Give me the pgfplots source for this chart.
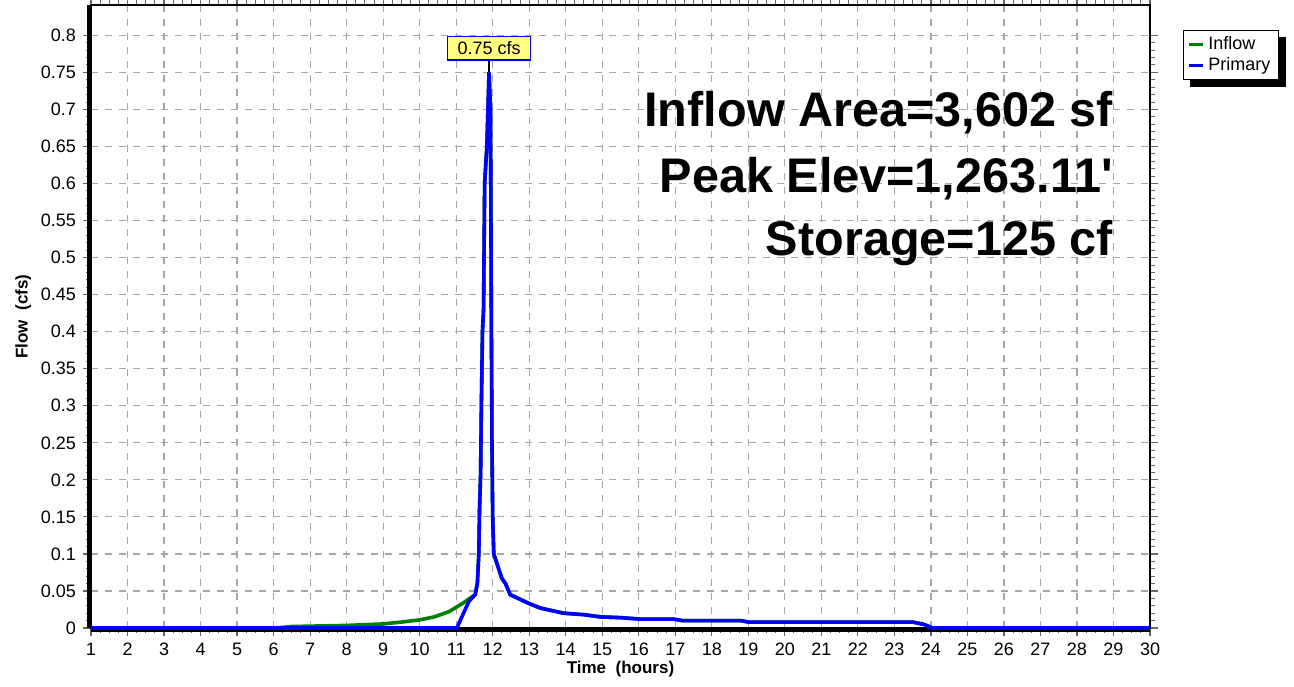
\documentclass[border=0pt]{standalone}
\usepackage{fontspec}
\setmainfont{Liberation Sans}[Ligatures=TeXOff]
\setsansfont{Liberation Sans}[Ligatures=TeXOff]
\usepackage{pgfplots}
\pgfplotsset{compat=1.18}
\pgfdeclarelayer{background}
\pgfsetlayers{background,main}
\definecolor{inflowgreen}{RGB}{0,128,0}
\definecolor{primblue}{RGB}{0,0,255}
\definecolor{labelyellow}{RGB}{255,255,128}
\begin{document}
\begin{tikzpicture}
\path[use as bounding box] (0,0) rectangle (647pt,343pt);
\begin{axis}[
  at={(45.5pt,29pt)}, anchor=south west,
  scale only axis, width=529.5pt, height=311.5pt,
  xmin=1, xmax=30, ymin=0, ymax=0.841,
  xtick={1,2,...,30},
  ytick={0,0.05,...,0.8},
  minor x tick num=3, minor y tick num=4,
  tick align=outside,
  major tick length=4pt, minor tick length=2.5pt,
  tick style={black!60, line width=0.6pt},
  minor tick style={black!60, line width=0.5pt},
  grid=major,
  major grid style={gray!70, line width=0.6pt, dash pattern=on 3.5pt off 3.5pt},
  axis line style={black, line width=0.8pt},
  ticklabel style={font=\fontsize{9}{10}\selectfont},
  /pgf/number format/assume math mode=true,
  yticklabel style={/pgf/number format/fixed, /pgf/number format/precision=2},
  xlabel={\bfseries Time\ \ (hours)},
  ylabel={\bfseries Flow\ \ (cfs)},
  label style={font=\fontsize{8.5}{10}\selectfont},
  xlabel style={yshift=4pt},
  ylabel style={yshift=-2pt},
  legend style={name=leg, at={(1.031,0.96)}, anchor=north west, draw=black, line width=0.6pt,
    fill=white, font=\fontsize{9}{10}\selectfont, inner xsep=2pt, inner ysep=1pt, row sep=-1.5pt},
  legend cell align=left,
  legend image code/.code={\draw[#1, line width=1.5pt] (0pt,0pt) -- (7pt,0pt);},
  clip=false,
]
\draw[black, line width=1.8pt] ([yshift=-0.9pt]rel axis cs:0,0) -- ([yshift=-0.9pt]rel axis cs:1,0);
\addplot[inflowgreen, line width=1.8pt] coordinates {
(1,0) (6.0,0) (6.3,0.001) (6.5,0.002) (7,0.0025) (7.5,0.003) (8,0.0035) (8.5,0.0045)
(9,0.0055) (9.5,0.008) (10,0.011) (10.4,0.015) (10.8,0.022) (11.0,0.028) (11.2,0.034)
(11.4,0.041) (11.52,0.045) (11.58,0.06) (11.62,0.1) (11.64,0.16) (11.67,0.21) (11.69,0.3)
(11.72,0.4) (11.75,0.43) (11.78,0.6) (11.84,0.65) (11.9,0.75) (11.94,0.7) (11.96,0.45)
(11.98,0.25) (12.0,0.15) (12.03,0.10) (12.25,0.067) (12.35,0.06) (12.48,0.045)
(13.0,0.033) (13.3,0.027) (13.94,0.02) (14.5,0.018) (14.95,0.015) (15.5,0.014)
(16.04,0.012) (16.95,0.012) (17.2,0.010) (18.8,0.010) (19.0,0.008) (23.5,0.008)
(23.8,0.005) (24.05,0) (30,0)};
\addlegendentry{Inflow}
\addplot[primblue, line width=1.8pt] coordinates {
(1,0) (11.02,0) (11.2,0.02) (11.35,0.036) (11.52,0.045) (11.58,0.06) (11.62,0.1)
(11.64,0.16) (11.67,0.21) (11.69,0.3) (11.72,0.4) (11.75,0.43) (11.78,0.6) (11.84,0.65)
(11.9,0.75) (11.94,0.7) (11.96,0.45) (11.98,0.25) (12.0,0.15) (12.03,0.10) (12.25,0.067)
(12.35,0.06) (12.48,0.045) (13.0,0.033) (13.3,0.027) (13.94,0.02) (14.5,0.018)
(14.95,0.015) (15.5,0.014) (16.04,0.012) (16.95,0.012) (17.2,0.010) (18.8,0.010)
(19.0,0.008) (23.5,0.008) (23.8,0.005) (24.05,0) (30,0)};
\addlegendentry{Primary}
\draw[black, line width=1.8pt] ([xshift=-0.9pt]rel axis cs:0,0) -- ([xshift=-0.9pt]rel axis cs:0,1);
\draw[black, line width=1pt] (axis cs:11.9,0.75) -- (axis cs:11.9,0.767);
\node[fill=labelyellow, draw=primblue, line width=0.8pt, inner xsep=5pt, inner ysep=2.5pt,
  font=\fontsize{9}{10}\selectfont, anchor=south] at (axis cs:11.9,0.766) {0.75 cfs};
\node[anchor=east, inner sep=0pt, font=\fontsize{24.3}{26}\selectfont\bfseries] at (axis cs:29,0.696) {Inflow Area=3,602 sf};
\node[anchor=east, inner sep=0pt, font=\fontsize{24.3}{26}\selectfont\bfseries] at (axis cs:29,0.607) {Peak Elev=1,263.11'};
\node[anchor=east, inner sep=0pt, font=\fontsize{24.3}{26}\selectfont\bfseries] at (axis cs:29,0.520) {Storage=125 cf};
\end{axis}
\begin{pgfonlayer}{background}
\fill[black] ([shift={(3.5pt,-3.5pt)}]leg.north west) rectangle ([shift={(3.5pt,-3.5pt)}]leg.south east);
\end{pgfonlayer}
\end{tikzpicture}
\end{document}
